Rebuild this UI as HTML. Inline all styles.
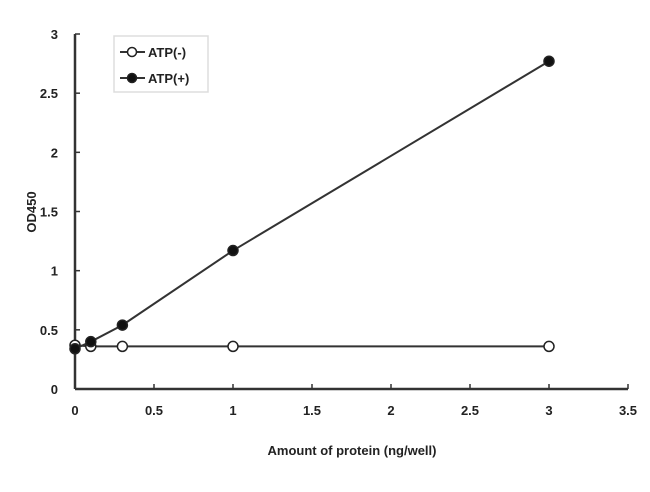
<!DOCTYPE html>
<html><head><meta charset="utf-8"><style>
body{margin:0;background:#fff}
svg text{font-family:"Liberation Sans",Arial,sans-serif;font-weight:bold;fill:#222}
</style></head><body>
<svg id="chart" width="650" height="487" xmlns="http://www.w3.org/2000/svg"></svg>
<script>
const xTicks=[0,0.5,1,1.5,2,2.5,3,3.5];
const xTickLabels=["0","0.5","1","1.5","2","2.5","3","3.5"];
const yTicks=[0,0.5,1,1.5,2,2.5,3];
const yTickLabels=["0","0.5","1","1.5","2","2.5","3"];
const xValues=[0,0.1,0.3,1,3];
const atpMinus=[0.37,0.36,0.36,0.36,0.36];
const atpPlus=[0.34,0.40,0.54,1.17,2.77];

const svg=document.getElementById('chart');
const NS='http://www.w3.org/2000/svg';
const X=v=>75+v*158;
const Y=v=>389-v*118.33;
function mk(tag,attrs,parent){const e=document.createElementNS(NS,tag);for(const k in attrs)e.setAttribute(k,attrs[k]);(parent||svg).appendChild(e);return e;}

let ax=mk('line',{x1:75,y1:Y(3),x2:75,y2:389,stroke:'#333','stroke-width':2.5});


ax=mk('line',{x1:75,y1:389,x2:X(3.5),y2:389,stroke:'#333','stroke-width':2.5});



xTicks.forEach((v,i)=>{
  const t=mk('line',{x1:X(v),y1:389,x2:X(v),y2:384,stroke:'#333','stroke-width':1.5});
  
  
  const l=mk('text',{x:X(v),y:415,'text-anchor':'middle','font-size':13});
  l.textContent=xTickLabels[i];
  
  
});
yTicks.forEach((v,i)=>{
  const t=mk('line',{x1:75,y1:Y(v),x2:80,y2:Y(v),stroke:'#333','stroke-width':1.5});
  
  
  const l=mk('text',{x:58,y:Y(v)+5,'text-anchor':'end','font-size':13});
  l.textContent=yTickLabels[i];
  
  
});

let t=mk('text',{x:352,y:455,'text-anchor':'middle','font-size':13});
t.textContent='Amount of protein (ng/well)';


t=mk('text',{x:0,y:0,'text-anchor':'middle','font-size':13,transform:'translate(36,212) rotate(-90)'});
t.textContent='OD450';



function series(vals,fill,name){
  const g=mk('g',{});
  
  
  const p=mk('polyline',{points:xValues.map((x,i)=>X(x)+','+Y(vals[i])).join(' '),fill:'none',stroke:'#333','stroke-width':2},g);
  
  
  xValues.forEach((x,i)=>{
    const c=mk('circle',{cx:X(x),cy:Y(vals[i]),r:5,fill:fill,stroke:'#222','stroke-width':1.5},g);
    
    
  });
}
series(atpMinus,'#fff','atp-minus-series');
series(atpPlus,'#111','atp-plus-series');

const lg=mk('g',{});


mk('rect',{x:114,y:36,width:94,height:56,fill:'#fff',stroke:'#ddd','stroke-width':1.5},lg);
[[ '#fff','ATP(-)',52],['#111','ATP(+)',78]].forEach(([f,label,y],i)=>{
  const e=mk('g',{},lg);
  
  
  mk('line',{x1:120,y1:y,x2:145,y2:y,stroke:'#333','stroke-width':2},e);
  mk('circle',{cx:132,cy:y,r:4.5,fill:f,stroke:'#222','stroke-width':1.5},e);
  const tx=mk('text',{x:148,y:y+5,'font-size':13},e);
  tx.textContent=label;
});
</script>
</body></html>
